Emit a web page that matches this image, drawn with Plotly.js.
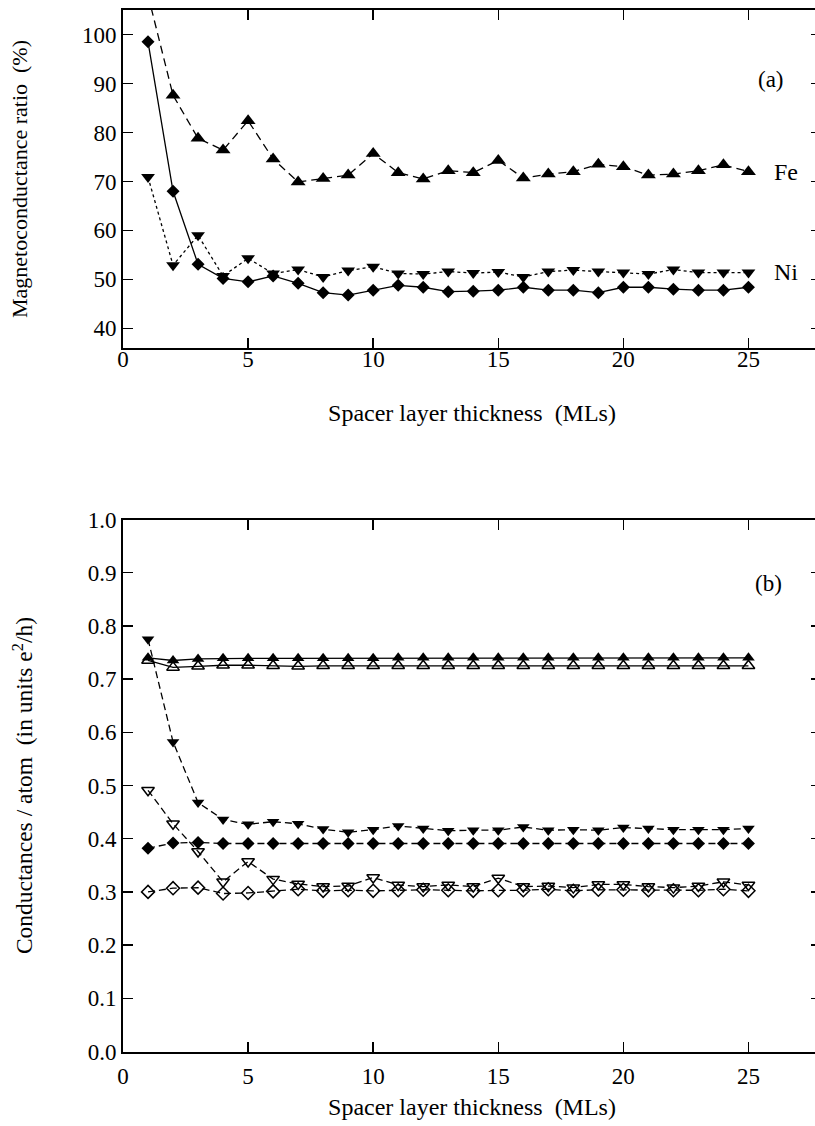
<!DOCTYPE html>
<html>
<head>
<meta charset="utf-8">
<script src="https://cdn.plot.ly/plotly-3.0.1.min.js"></script>
<style>
html, body { margin: 0; padding: 0; overflow: hidden; background: #fff; }
#chart { width: 830px; height: 1126px; }
</style>
</head>
<body>
<div id="chart"></div>
<script>
// Spacer layer thickness (MLs)
const thickness = [1,2,3,4,5,6,7,8,9,10,11,12,13,14,15,16,17,18,19,20,21,22,23,24,25];

// Panel (a): magnetoconductance ratio (%)
const feRatio = [108, 87.6, 78.8, 76.4, 82.4, 74.6, 69.9, 70.6, 71.3, 75.7, 71.8, 70.5, 72.2,
                 71.8, 74.3, 70.7, 71.5, 72.0, 73.5, 73.0, 71.3, 71.5, 72.2, 73.4, 72.0];
const niRatio = [70.9, 52.9, 59.0, 50.7, 54.3, 51.2, 52.0, 50.5, 51.8, 52.6, 51.2, 51.1, 51.6,
                 51.3, 51.5, 50.5, 51.6, 51.9, 51.6, 51.4, 51.1, 52.0, 51.4, 51.4, 51.4];
const diamondRatio = [98.5, 68.0, 53.1, 50.2, 49.5, 50.7, 49.2, 47.3, 46.8, 47.8, 48.8, 48.4, 47.5,
                      47.6, 47.8, 48.4, 47.8, 47.8, 47.3, 48.4, 48.4, 48.0, 47.8, 47.8, 48.4];

// Panel (b): conductances per atom (e^2/h)
const feParallel = [0.740, 0.735, 0.738, 0.739, 0.739, 0.739, 0.739, 0.739, 0.739, 0.739, 0.740, 0.740, 0.740,
                    0.740, 0.740, 0.740, 0.740, 0.740, 0.740, 0.740, 0.740, 0.740, 0.740, 0.740, 0.740];
const feAnti = [0.735, 0.722, 0.724, 0.726, 0.726, 0.725, 0.724, 0.725, 0.725, 0.725, 0.725, 0.725, 0.725,
                0.725, 0.725, 0.725, 0.725, 0.725, 0.725, 0.725, 0.725, 0.725, 0.725, 0.725, 0.725];
const niParallel = [0.775, 0.582, 0.468, 0.436, 0.427, 0.432, 0.428, 0.418, 0.412, 0.417, 0.424, 0.419, 0.415,
                    0.416, 0.416, 0.422, 0.416, 0.417, 0.416, 0.421, 0.419, 0.417, 0.417, 0.417, 0.419];
const diamondParallel = [0.382, 0.392, 0.393, 0.391, 0.391, 0.391, 0.391, 0.391, 0.391, 0.391, 0.391, 0.391, 0.391,
                         0.391, 0.391, 0.391, 0.391, 0.391, 0.391, 0.391, 0.391, 0.391, 0.391, 0.391, 0.391];
const niAnti = [0.491, 0.428, 0.376, 0.319, 0.357, 0.324, 0.315, 0.310, 0.311, 0.327, 0.313, 0.310, 0.313,
                0.310, 0.326, 0.310, 0.311, 0.308, 0.314, 0.314, 0.310, 0.308, 0.311, 0.319, 0.313];
const diamondAnti = [0.300, 0.307, 0.308, 0.297, 0.298, 0.301, 0.305, 0.302, 0.303, 0.302, 0.303, 0.304, 0.303,
                     0.302, 0.303, 0.303, 0.305, 0.302, 0.304, 0.304, 0.303, 0.303, 0.303, 0.305, 0.302];

// Tick values
const xTicks = [0, 5, 10, 15, 20, 25];
const yTicksA = [40, 50, 60, 70, 80, 90, 100];
const yTicksB = [0, 0.1, 0.2, 0.3, 0.4, 0.5, 0.6, 0.7, 0.8, 0.9, 1.0];

const FONT = 'Liberation Serif';
const W = 830, H = 1126;
const NB = '\u00a0';

function tr(y, xa, ya, symbol, size, dash, name) {
  return {
    x: thickness, y: y, xaxis: xa, yaxis: ya, type: 'scatter', mode: 'lines+markers', name: name,
    line: { color: 'black', width: 1.3, dash: dash },
    marker: { symbol: symbol, size: size, color: 'black', line: { color: 'black', width: symbol.indexOf('open') >= 0 ? 1.5 : 0 } },
    cliponaxis: true
  };
}

const data = [
  tr(feRatio, 'x', 'y', 'triangle-up', 13, '8px,5px', 'Fe'),
  tr(niRatio, 'x', 'y', 'triangle-down', 12, '3px,3px', 'Ni'),
  tr(diamondRatio, 'x', 'y', 'diamond', 10, 'solid', 'diamond'),
  tr(feParallel, 'x2', 'y2', 'triangle-up', 11, 'solid', 'Fe parallel'),
  tr(feAnti, 'x2', 'y2', 'triangle-up-open', 11, 'solid', 'Fe antiparallel'),
  tr(niParallel, 'x2', 'y2', 'triangle-down', 11, '7px,4px', 'Ni parallel'),
  tr(diamondParallel, 'x2', 'y2', 'diamond', 10, '7px,4px', 'diamond parallel'),
  tr(niAnti, 'x2', 'y2', 'triangle-down-open', 11, '7px,4px', 'Ni antiparallel'),
  tr(diamondAnti, 'x2', 'y2', 'diamond-open', 10, '7px,4px', 'diamond antiparallel'),
  // carrier for the tick-label axis of panel (a)
  { x: [], y: [], xaxis: 'x3', yaxis: 'y', type: 'scatter', mode: 'markers', showlegend: false, hoverinfo: 'skip' }
];

const xDomain = [123 / W, 821 / W];
function axisBase() {
  return {
    showline: true, linecolor: 'black', linewidth: 2, mirror: 'ticks',
    ticks: 'inside', ticklen: 10, tickwidth: 1.5, tickcolor: 'black',
    showgrid: false, zeroline: false,
    tickfont: { family: FONT, size: 23, color: 'black' }
  };
}

const layout = {
  width: W, height: H,
  margin: { l: 0, r: 0, t: 0, b: 0 },
  paper_bgcolor: 'white', plot_bgcolor: 'white',
  showlegend: false,
  font: { family: FONT, size: 22, color: 'black' },
  xaxis: Object.assign(axisBase(), {
    domain: xDomain, range: [0, 27.9], anchor: 'y', tickvals: xTicks, showticklabels: false,
    title: { text: 'Spacer layer thickness' + NB + ' (MLs)', font: { family: FONT, size: 24, color: 'black' }, standoff: 55 }
  }),
  xaxis3: {
    overlaying: 'x', anchor: 'free', position: 1 - 343 / H, range: [0, 27.9], tickvals: xTicks,
    showline: false, ticks: '', showgrid: false, zeroline: false,
    tickfont: { family: FONT, size: 23, color: 'black' }
  },
  yaxis: Object.assign(axisBase(), {
    domain: [1 - 348 / H, 1 - 10 / H], range: [36, 105], anchor: 'x', tickvals: yTicksA,
    title: { text: '\u2003Magnetoconductance ratio' + NB + ' (%)', font: { family: FONT, size: 22, color: 'black' }, standoff: 48 }
  }),
  xaxis2: Object.assign(axisBase(), {
    domain: xDomain, range: [0, 27.9], anchor: 'y2', tickvals: xTicks,
    ticklabelstandoff: 3,
    title: { text: 'Spacer layer thickness' + NB + ' (MLs)', font: { family: FONT, size: 24, color: 'black' }, standoff: 10 }
  }),
  yaxis2: Object.assign(axisBase(), {
    domain: [1 - 1051.5 / H, 1 - 519.5 / H], range: [0, 1], anchor: 'x2', tickvals: yTicksB,
    tickformat: '.1f',
    title: { text: 'Conductances / atom' + NB + ' (in units e<sup>2</sup>/h)', font: { family: FONT, size: 23.5, color: 'black' }, standoff: 48 }
  }),
  annotations: [
    { text: '(a)', x: 25.9, y: 90.9, xref: 'x', yref: 'y', showarrow: false, font: { family: FONT, size: 23, color: 'black' } },
    { text: 'Fe', x: 26.5, y: 71.9, xref: 'x', yref: 'y', showarrow: false, font: { family: FONT, size: 24, color: 'black' } },
    { text: 'Ni', x: 26.5, y: 51.5, xref: 'x', yref: 'y', showarrow: false, font: { family: FONT, size: 24, color: 'black' } },
    { text: '(b)', x: 25.8, y: 0.879, xref: 'x2', yref: 'y2', showarrow: false, font: { family: FONT, size: 23, color: 'black' } }
  ]
};

Plotly.newPlot('chart', data, layout, { staticPlot: true, displayModeBar: false });
</script>
</body>
</html>
